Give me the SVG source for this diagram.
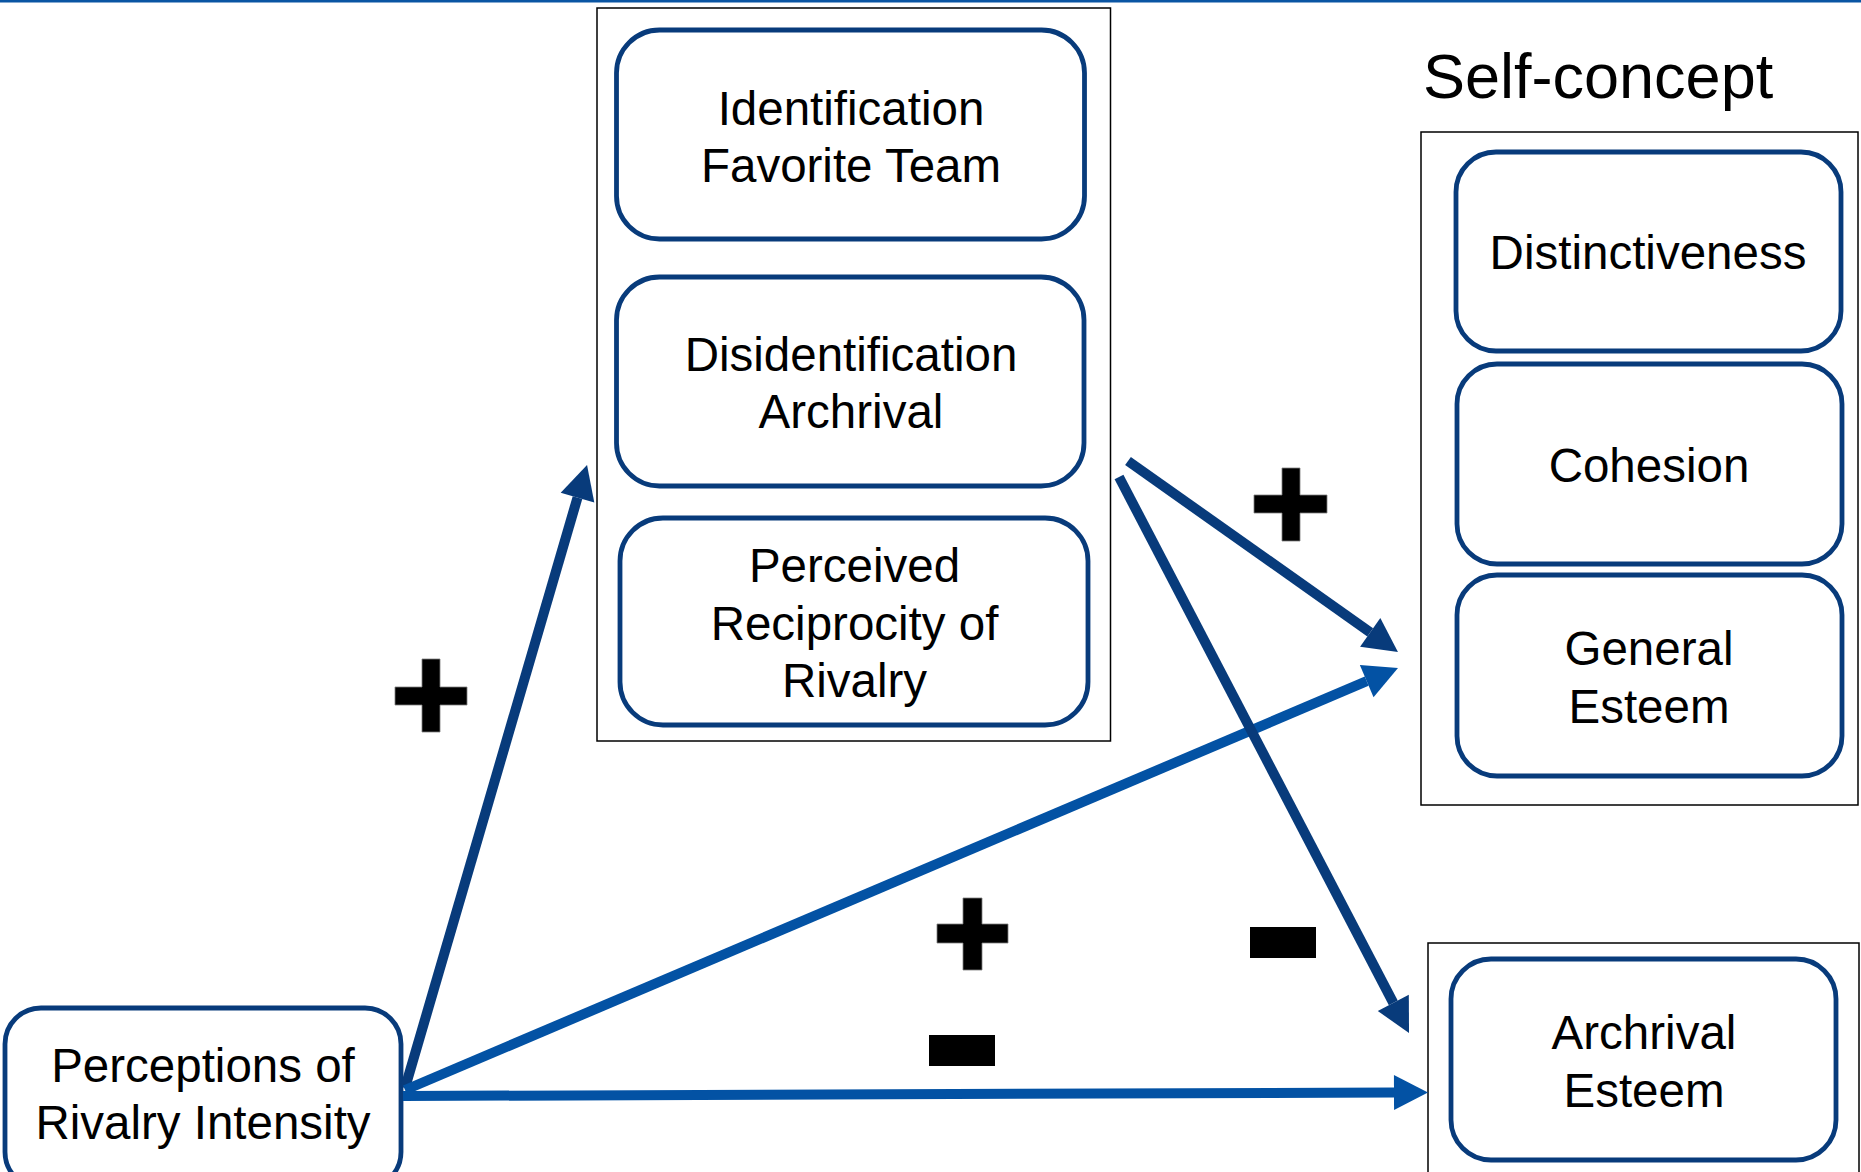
<svg xmlns="http://www.w3.org/2000/svg" width="1861" height="1172" viewBox="0 0 1861 1172">
  <style>
    .frame { fill: #ffffff; stroke: #000000; stroke-width: 1.5; }
    .node rect { fill: #ffffff; stroke: #083b7b; stroke-width: 4.8; }
    .node text, .title { font-family: "Liberation Sans", Arial, sans-serif; font-size: 47.5px; fill: #000000; text-anchor: middle; }
    .title { font-size: 63px; text-anchor: start; }
    .dark { stroke: #083b7b; stroke-width: 10; fill: none; }
    .bright { stroke: #0352a4; stroke-width: 10; fill: none; }
    .sign { fill: #000000; stroke: #7f7f7f; stroke-width: 0.8; }
  </style>
  <defs>
    <marker id="headDark" markerUnits="userSpaceOnUse" markerWidth="36" markerHeight="36" refX="0" refY="17.5" orient="auto" overflow="visible">
      <path d="M0,0 L34,17.5 L0,35 Z" fill="#083b7b"/>
    </marker>
    <marker id="headBright" markerUnits="userSpaceOnUse" markerWidth="36" markerHeight="36" refX="0" refY="17.5" orient="auto" overflow="visible">
      <path d="M0,0 L34,17.5 L0,35 Z" fill="#0352a4"/>
    </marker>
  </defs>

  <rect width="1861" height="1172" fill="#ffffff"/>
  <!-- top rule -->
  <rect x="0" y="0" width="1861" height="2.5" fill="#0a55a3"/>

  <!-- group frames -->
  <rect class="frame" x="597" y="8" width="513.5" height="733"/>
  <rect class="frame" x="1421" y="132" width="437" height="673"/>
  <rect class="frame" x="1428" y="943" width="431" height="240"/>
  <text class="title" x="1423" y="98">Self-concept</text>

  <!-- mediator nodes -->
  <g id="identification" class="node">
    <rect x="616.5" y="30" width="468" height="209" rx="43"/>
    <text x="851" y="125">Identification</text>
    <text x="851" y="182">Favorite Team</text>
  </g>
  <g id="disidentification" class="node">
    <rect x="616.5" y="277" width="467.5" height="209" rx="43"/>
    <text x="851" y="371">Disidentification</text>
    <text x="851" y="428">Archrival</text>
  </g>
  <g id="reciprocity" class="node">
    <rect x="620" y="518" width="468" height="207" rx="43"/>
    <text x="854.5" y="582">Perceived</text>
    <text x="854.5" y="640">Reciprocity of</text>
    <text x="854.5" y="697">Rivalry</text>
  </g>

  <!-- self-concept nodes -->
  <g id="distinctiveness" class="node">
    <rect x="1456" y="152" width="385" height="199" rx="40"/>
    <text x="1648" y="269">Distinctiveness</text>
  </g>
  <g id="cohesion" class="node">
    <rect x="1457" y="364" width="385" height="200" rx="40"/>
    <text x="1649" y="482">Cohesion</text>
  </g>
  <g id="general-esteem" class="node">
    <rect x="1457" y="575" width="385" height="201" rx="40"/>
    <text x="1649" y="665">General</text>
    <text x="1649" y="723">Esteem</text>
  </g>

  <!-- outcome node -->
  <g id="archrival-esteem" class="node">
    <rect x="1451" y="959" width="385" height="201" rx="40"/>
    <text x="1644" y="1049">Archrival</text>
    <text x="1644" y="1107">Esteem</text>
  </g>

  <!-- predictor node -->
  <g id="rivalry-intensity" class="node">
    <rect x="5" y="1008" width="396" height="180" rx="36"/>
    <text x="203" y="1082">Perceptions of</text>
    <text x="203" y="1139">Rivalry Intensity</text>
  </g>

  <!-- connectors -->
  <g id="connectors">
    <line class="dark" x1="405" y1="1088" x2="577.5" y2="497.6" marker-end="url(#headDark)"/>
    <line class="bright" x1="405" y1="1090" x2="1366.7" y2="681.2" marker-end="url(#headBright)"/>
    <line class="bright" x1="403" y1="1096" x2="1394" y2="1092.5" marker-end="url(#headBright)"/>
    <line class="dark" x1="1128" y1="461" x2="1370.2" y2="632.4" marker-end="url(#headDark)"/>
    <line class="dark" x1="1119" y1="477" x2="1393.3" y2="1002.9" marker-end="url(#headDark)"/>
  </g>

  <!-- effect signs -->
  <g id="signs">
    <path class="sign" d="M422,659 H440 V687 H467 V705 H440 V732 H422 V705 H395 V687 H422 Z"/>
    <path class="sign" d="M1282,468 H1300 V495 H1327 V513 H1300 V541 H1282 V513 H1254 V495 H1282 Z"/>
    <path class="sign" d="M963,898 H982 V924 H1008 V943 H982 V970 H963 V943 H937 V924 H963 Z"/>
    <rect x="929" y="1035" width="66" height="31" fill="#000000"/>
    <rect x="1250" y="927" width="66" height="31" fill="#000000"/>
  </g>
</svg>
